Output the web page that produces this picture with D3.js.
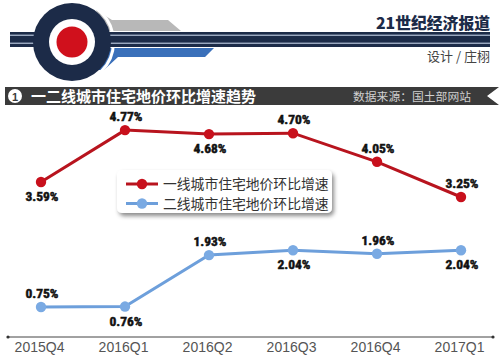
<!DOCTYPE html>
<html><head><meta charset="utf-8">
<script src="https://cdn.jsdelivr.net/npm/d3@7"></script>
<style>
html,body{margin:0;padding:0;background:#fff;}
svg{display:block;}
</style></head>
<body>
<svg id="c" width="500" height="361"></svg>
<script>
const categories = ["2015Q4","2016Q1","2016Q2","2016Q3","2016Q4","2017Q1"];
const tier1 = [3.59, 4.77, 4.68, 4.70, 4.05, 3.25];
const tier2 = [0.75, 0.76, 1.93, 2.04, 1.96, 2.04];
const tier1Place = ["below","above","below","above","above","above"];
const tier2Place = ["above","below","above","below","above","below"];
const seriesNames = ["一线城市住宅地价环比增速","二线城市住宅地价环比增速"];
const chartTitle = "一二线城市住宅地价环比增速趋势";
const sourceText = "数据来源：国土部网站";
const brand = "21世纪经济报道";
const credit = "设计 / 庄栩";

const svg = d3.select("#c");
const CJK = "'Noto Sans CJK SC','Noto Sans',sans-serif";

// defs
const defs = svg.append("defs");
const f = defs.append("filter").attr("id","sh").attr("x","-10%").attr("y","-20%").attr("width","130%").attr("height","160%");
f.append("feDropShadow").attr("dx",2).attr("dy",3).attr("stdDeviation",2.2).attr("flood-color","#000").attr("flood-opacity",0.45);

// ---- header logo ----
const navy = "#1c2b48";
const logo = svg.append("g");
logo.append("polygon").attr("points","96,10 112,20 168,20 181,31 100,31").attr("fill","#b8b8b8");
logo.append("polygon").attr("points","100,48 214,48 205,57 118,57 104,70 96,70").attr("fill","#3a70ba");
logo.append("circle").attr("cx",72).attr("cy",42).attr("r",41.5).attr("fill","none").attr("stroke","#fff").attr("stroke-width",3);
logo.append("rect").attr("x",10).attr("y",32).attr("width",480).attr("height",15).attr("fill",navy);
logo.append("rect").attr("x",10).attr("y",34.6).attr("width",480).attr("height",1.3).attr("fill","#a9b6cc");
logo.append("rect").attr("x",10).attr("y",42.6).attr("width",480).attr("height",1.3).attr("fill","#a9b6cc");
logo.append("circle").attr("cx",72).attr("cy",42).attr("r",39).attr("fill",navy);
logo.append("circle").attr("cx",72).attr("cy",42).attr("r",23).attr("fill","#fff");
logo.append("circle").attr("cx",72).attr("cy",42).attr("r",15.5).attr("fill","#d0101c");

svg.append("text").attr("x",490).attr("y",29).attr("text-anchor","end")
  .attr("font-family","'Noto Sans CJK SC',serif").attr("font-weight",900).attr("font-size",15.8)
  .attr("fill","#1c2b48").text(brand);
svg.append("text").attr("x",490).attr("y",61).attr("text-anchor","end")
  .attr("font-family",CJK).attr("font-size",13).attr("fill","#444").text(credit);

// ---- title bar ----
svg.append("path").attr("d","M5,87 L499,87 L487,96 L499,105 L5,105 Z").attr("fill","#3b3b3b");
svg.append("circle").attr("cx",15).attr("cy",96).attr("r",7).attr("fill","#fff");
svg.append("text").attr("x",15).attr("y",100.5).attr("text-anchor","middle").attr("font-family","Arial,'Liberation Sans'")
  .attr("font-weight","bold").attr("font-size",11).attr("fill","#3b3b3b").text("1");
svg.append("text").attr("x",31).attr("y",102).attr("font-family",CJK).attr("font-weight",700)
  .attr("font-size",15).attr("fill","#fff").text(chartTitle);
svg.append("text").attr("x",471).attr("y",101).attr("text-anchor","end").attr("font-family",CJK)
  .attr("font-size",11.8).attr("fill","#d0d0d0").text(sourceText);

// ---- scales ----
const x = d3.scalePoint().domain(categories).range([41,461]);
const y = d3.scaleLinear().domain([0,5]).range([340,120]);

// axis
const axisG = svg.append("g").attr("transform","translate(0,337)");
axisG.call(d3.axisBottom(x).tickSize(0).tickPadding(7));
axisG.select(".domain").remove();
axisG.append("line").attr("x1",8).attr("x2",493).attr("y1",0).attr("y2",0).attr("stroke","#444").attr("stroke-width",1);
axisG.append("circle").attr("cx",8).attr("cy",0).attr("r",1.6).attr("fill","#333");
axisG.append("circle").attr("cx",493).attr("cy",0).attr("r",1.6).attr("fill","#333");
axisG.selectAll(".tick text").attr("font-family","'Liberation Sans',Arial,sans-serif").attr("font-size",14)
  .attr("fill","#555").attr("dx",-2).attr("dy","0.6em");

// series
const series = [
  {vals:tier1, place:tier1Place, line:"#b8141e", dot:"#c8101c"},
  {vals:tier2, place:tier2Place, line:"#6d9fdb", dot:"#7aaae3"}
];
const lineGen = d3.line().x((d,i)=>x(categories[i])).y(d=>y(d));
series.forEach(s=>{
  svg.append("path").datum(s.vals).attr("d",lineGen).attr("fill","none")
    .attr("stroke",s.line).attr("stroke-width",3);
  svg.selectAll(null).data(s.vals).enter().append("circle")
    .attr("cx",(d,i)=>x(categories[i])).attr("cy",d=>y(d)).attr("r",5.2).attr("fill",s.dot);
  svg.selectAll(null).data(s.vals).enter().append("text")
    .attr("x",(d,i)=>x(categories[i])+1)
    .attr("y",(d,i)=>y(d)+(s.place[i]==="above"?-9:19))
    .attr("text-anchor","middle")
    .attr("font-family","'Liberation Sans Narrow','Roboto Condensed','Arial Narrow',sans-serif")
    .attr("font-weight","bold").attr("font-size",13.5).attr("fill","#111")
    .attr("stroke","#111").attr("stroke-width",0.5)
    .text(d=>d.toFixed(2)+"%");
});

// legend
const lg = svg.append("g");
lg.append("rect").attr("x",117).attr("y",170).attr("width",215).attr("height",43).attr("rx",5)
  .attr("fill","#fff").attr("filter","url(#sh)");
seriesNames.forEach((n,i)=>{
  const yy = 184 + i*19.5;
  lg.append("line").attr("x1",126).attr("x2",158).attr("y1",yy).attr("y2",yy)
    .attr("stroke",series[i].line).attr("stroke-width",3);
  lg.append("circle").attr("cx",142).attr("cy",yy).attr("r",5.2).attr("fill",series[i].dot);
  lg.append("text").attr("x",163).attr("y",yy+5).attr("font-family",CJK).attr("font-size",13.8)
    .attr("fill","#333").text(n);
});
</script>
</body></html>
